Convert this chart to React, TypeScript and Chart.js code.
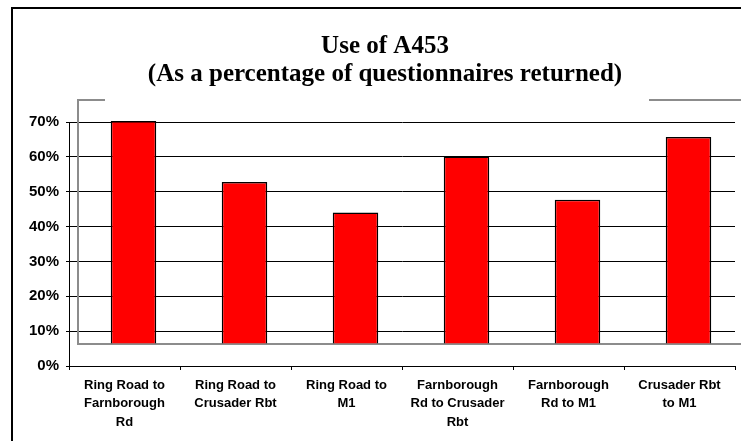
import React, { useEffect, useRef } from "react";
import { Chart, registerables } from "chart.js";

Chart.register(...registerables);

const categories: string[][] = [
  ["Ring Road to", "Farnborough", "Rd"],
  ["Ring Road to", "Crusader Rbt"],
  ["Ring Road to", "M1"],
  ["Farnborough", "Rd to Crusader", "Rbt"],
  ["Farnborough", "Rd to M1"],
  ["Crusader Rbt", "to M1"],
];
const usage: number[] = [0.64, 0.465, 0.377, 0.538, 0.414, 0.594];
const titleLines: string[] = ["Use of A453", "(As a percentage of questionnaires returned)"];
const yMax = 0.7;
const yStep = 0.1;

// 3D depth offset of the back wall (pixels)
const DX = 9;
const DY = 22;
const TITLE_X = 385;
const TITLE_Y = 47;
const TITLE_LINE = 28;

const depthPlugin = {
  id: "depthPlugin",
  beforeDraw(chart: any) {
    const ctx = chart.ctx;
    ctx.save();
    ctx.fillStyle = "#fff";
    ctx.fillRect(0, 0, chart.width, chart.height);
    ctx.strokeStyle = "#000";
    ctx.lineWidth = 2;
    ctx.strokeRect(12, 8, chart.width + 50, chart.height + 50);
    ctx.restore();
  },
  beforeDatasetsDraw(chart: any) {
    const ctx = chart.ctx;
    const area = chart.chartArea;
    const y = chart.scales.y;
    const wl = area.left + DX;
    const wr = area.right + DX;
    const floor = y.getPixelForValue(0) - DY;
    const top = y.getPixelForValue(yMax) - DY;
    ctx.save();
    ctx.strokeStyle = "#8c8c8c";
    ctx.lineWidth = 2;
    ctx.beginPath();
    ctx.moveTo(wl + 27, top);
    ctx.lineTo(wl, top);
    ctx.lineTo(wl, floor);
    ctx.lineTo(wr, floor);
    ctx.moveTo(chart.width - 92, top);
    ctx.lineTo(wr, top);
    ctx.stroke();
    ctx.restore();
    ctx.save();
    ctx.translate(DX, -DY);
  },
  afterDatasetsDraw(chart: any) {
    chart.ctx.restore();
  },
  afterDraw(chart: any) {
    const ctx = chart.ctx;
    ctx.save();
    ctx.fillStyle = "#000";
    ctx.font = 'bold 25px "Liberation Serif", "Times New Roman", serif';
    ctx.textAlign = "center";
    ctx.textBaseline = "middle";
    titleLines.forEach((line, i) => {
      ctx.fillText(line, TITLE_X, TITLE_Y + i * TITLE_LINE);
    });
    ctx.restore();
  },
};

export default function App() {
  const ref = useRef<HTMLCanvasElement | null>(null);
  useEffect(() => {
    document.body.style.margin = "0";
    if (!ref.current) return;
    const chart = new Chart(ref.current, {
      type: "bar",
      data: {
        labels: categories,
        datasets: [
          {
            data: usage,
            backgroundColor: "#ff0000",
            borderColor: "#000",
            borderWidth: 1.5,
            barPercentage: 0.41,
            categoryPercentage: 1,
          },
        ],
      },
      options: {
        animation: false,
        responsive: false,
        devicePixelRatio: 1,
        layout: { padding: { left: 12, right: 6, top: 122, bottom: 0 } },
        plugins: {
          legend: { display: false },
          tooltip: { enabled: false },
          title: { display: false },
        },
        scales: {
          x: {
            offset: true,
            grid: {
              offset: true,
              drawOnChartArea: false,
              drawTicks: true,
              tickLength: 4,
              color: "#000",
            },
            border: { color: "#000", width: 1 },
            ticks: {
              color: "#000",
              padding: 6,
              maxRotation: 0,
              autoSkip: false,
              font: {
                family: '"Liberation Sans", Arial, sans-serif',
                size: 13,
                weight: "bold",
                lineHeight: 1.42,
              },
            },
            afterFit(scale: any) {
              scale.height = 75;
            },
          },
          y: {
            min: 0,
            max: yMax,
            grid: { color: "#000", lineWidth: 1, tickLength: 3 },
            border: { color: "#000", width: 1 },
            ticks: {
              stepSize: yStep,
              color: "#000",
              padding: 7,
              font: {
                family: '"Liberation Sans", Arial, sans-serif',
                size: 15,
                weight: "bold",
              },
              callback: (v: any) => `${Math.round(Number(v) * 100)}%`,
            },
            afterFit(scale: any) {
              scale.width = 57;
            },
          },
        },
      },
      plugins: [depthPlugin],
    });
    return () => chart.destroy();
  }, []);
  return (
    <div style={{ width: 741, height: 441 }}>
      <canvas ref={ref} width={741} height={441} />
    </div>
  );
}
